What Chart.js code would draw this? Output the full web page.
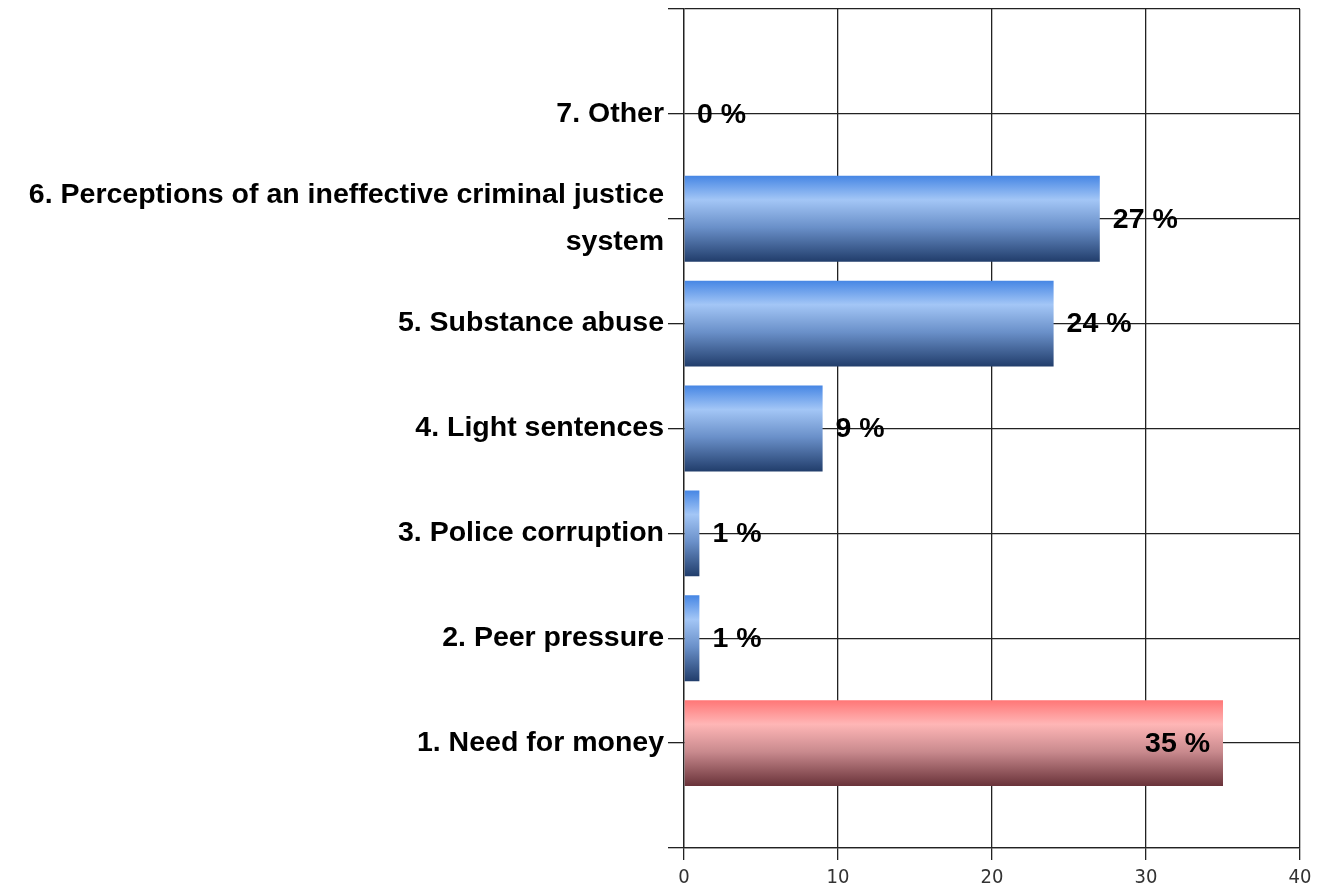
<!DOCTYPE html>
<html>
<head>
<meta charset="utf-8">
<script src="https://cdn.jsdelivr.net/npm/chart.js@4.4.1/dist/chart.umd.min.js"></script>
<style>
  body { margin: 0; background: #fff; }
  #wrap { width: 1319px; height: 894px; }
</style>
</head>
<body>
<div id="wrap"><canvas id="graph"></canvas></div>
<script>
// categories bottom to top, as in the picture
const categories = [
	'1. Need for money',
	'2. Peer pressure',
	'3. Police corruption',
	'4. Light sentences',
	'5. Substance abuse',
	['6. Perceptions of an ineffective criminal justice', 'system'],
	'7. Other'
];
const values = [35, 1, 1, 9, 24, 27, 0];
const xTicks = [0, 10, 20, 30, 40];
const redIndex = 0;

// empty slot at each end, so there is a free row above and below
const labels = [''].concat(categories, ['']);
const data = [null].concat(values, [null]);

function barFill(context) {
	const chart = context.chart;
	const area = chart.chartArea;
	const yScale = chart.scales.y;
	const red = context.dataIndex === redIndex + 1;
	if (!area || !yScale) return red ? '#f39a9a' : '#5d86c4';
	const yc = yScale.getPixelForValue(context.dataIndex);
	const step = Math.abs(yScale.getPixelForValue(1) - yScale.getPixelForValue(2));
	const h = step * 0.82 / 2;
	const g = chart.ctx.createLinearGradient(0, yc - h, 0, yc + h);
	if (red) {
		g.addColorStop(0, '#ff7676');
		g.addColorStop(0.28, '#ffb6b6');
		g.addColorStop(0.6, '#c98a8e');
		g.addColorStop(1, '#693239');
	} else {
		g.addColorStop(0, '#4686e4');
		g.addColorStop(0.28, '#a3c6f6');
		g.addColorStop(0.6, '#6a90c9');
		g.addColorStop(1, '#213d6b');
	}
	return g;
}

const valueLabels = {
	id: 'valueLabels',
	afterDatasetsDraw(chart) {
		const ctx = chart.ctx;
		const meta = chart.getDatasetMeta(0);
		const max = Math.max.apply(null, values);
		ctx.save();
		ctx.font = 'bold 28.5px "Liberation Sans", Arial, sans-serif';
		ctx.fillStyle = '#000';
		ctx.textBaseline = 'middle';
		meta.data.forEach(function (bar, i) {
			const v = data[i];
			if (v === null) return;
			const txt = v + ' %';
			if (v === max) {
				ctx.textAlign = 'right';
				ctx.fillText(txt, bar.x - 13, bar.y + 1);
			} else {
				ctx.textAlign = 'left';
				ctx.fillText(txt, bar.x + 13, bar.y + 1);
			}
		});
		ctx.restore();
	}
};

new Chart(document.getElementById('graph'), {
	type: 'bar',
	data: {
		labels: labels,
		datasets: [{
			data: data,
			backgroundColor: barFill,
			borderWidth: 0,
			barPercentage: 0.82,
			categoryPercentage: 1
		}]
	},
	options: {
		indexAxis: 'y',
		responsive: true,
		maintainAspectRatio: false,
		animation: false,
		layout: { padding: { top: 9, right: 19, bottom: 0, left: 0 } },
		plugins: {
			legend: { display: false },
			tooltip: { enabled: false }
		},
		scales: {
			x: {
				type: 'linear',
				min: 0,
				max: 40,
				afterBuildTicks: function (s) { s.ticks = xTicks.map(function (v) { return { value: v }; }); },
				afterFit: function (s) { s.height = 46; },
				grid: { color: '#222', lineWidth: 1.3, tickLength: 12 },
				border: { color: '#222', width: 1.3 },
				ticks: {
					padding: 6,
					color: '#333',
					font: { family: '"Liberation Sans Narrow", "DejaVu Sans Condensed", sans-serif', size: 20 }
				}
			},
			y: {
				type: 'category',
				reverse: true,
				offset: false,
				afterFit: function (s) { s.width = 684; s.paddingTop = 0; s.paddingBottom = 0; },
				grid: { color: '#222', lineWidth: 1.3, tickLength: 16, offset: false },
				border: { color: '#222', width: 1.3 },
				ticks: {
					autoSkip: false,
					padding: 4,
					color: '#000',
					font: { family: '"Liberation Sans", Arial, sans-serif', size: 28.5, weight: 'bold', lineHeight: 1.65 }
				}
			}
		}
	},
	plugins: [valueLabels]
});
</script>
</body>
</html>
